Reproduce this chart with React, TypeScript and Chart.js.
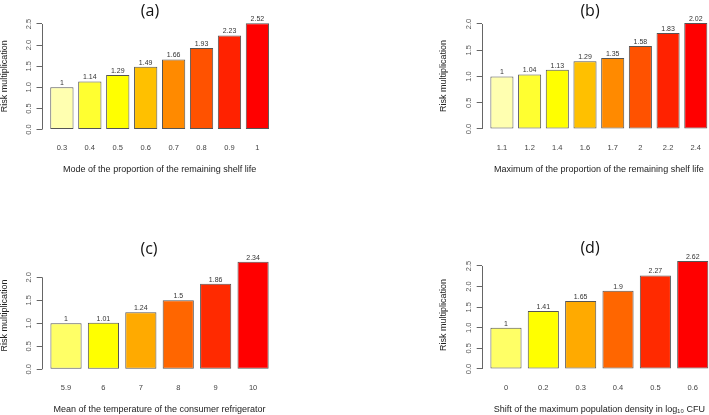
import React, { useEffect, useRef } from "react";
import { Chart, registerables } from "chart.js";
Chart.register(...registerables);

// ---- data ----
const catsA = ["0.3", "0.4", "0.5", "0.6", "0.7", "0.8", "0.9", "1"];
const valsA = [1, 1.14, 1.29, 1.49, 1.66, 1.93, 2.23, 2.52];
const catsB = ["1.1", "1.2", "1.4", "1.6", "1.7", "2", "2.2", "2.4"];
const valsB = [1, 1.04, 1.13, 1.29, 1.35, 1.58, 1.83, 2.02];
const catsC = ["5.9", "6", "7", "8", "9", "10"];
const valsC = [1, 1.01, 1.24, 1.5, 1.86, 2.34];
const catsD = ["0", "0.2", "0.3", "0.4", "0.5", "0.6"];
const valsD = [1, 1.41, 1.65, 1.9, 2.27, 2.62];

const titleA = "(a)";
const titleB = "(b)";
const titleC = "(c)";
const titleD = "(d)";
const xTitleA = "Mode of the proportion of the remaining shelf life";
const xTitleB = "Maximum of the proportion of the remaining shelf life";
const xTitleC = "Mean of the temperature of the consumer refrigerator";
const xTitleD = "Shift of the maximum population density in log\u2081\u2080 CFU";
const yTitle = "Risk multiplication";

const colors8 = ["#FFFFB0", "#FFFF30", "#FFFF00", "#FFC000", "#FF8A00", "#FF5200", "#FF2200", "#FF0000"];
const colors6 = ["#FFFF66", "#FFFF00", "#FFAA00", "#FF6600", "#FF2A00", "#FF0000"];

const FONT = "'Liberation Sans', Arial, sans-serif";
const W = 760;
const H = 415;

type Spec = {
  cats: string[];
  vals: number[];
  colors: string[];
  title: string;
  xTitle: string;
  area: { l: number; r: number; t: number; b: number };
  titleX: number;
  titleY: number;
  yTitleX: number;
  xTitleY: number;
  xLabelY: number;
};

const specs: Spec[] = [
  { cats: catsA, vals: valsA, colors: colors8, title: titleA, xTitle: xTitleA,
    area: { l: 41.5, r: 277.8, t: 18.9, b: 133.8 }, titleX: 150, titleY: 11, yTitleX: 5, xTitleY: 170, xLabelY: 148 },
  { cats: catsB, vals: valsB, colors: colors8, title: titleB, xTitle: xTitleB,
    area: { l: 481.7, r: 716, t: 18.7, b: 133.2 }, titleX: 590, titleY: 11, yTitleX: 443.5, xTitleY: 170, xLabelY: 148 },
  { cats: catsC, vals: valsC, colors: colors6, title: titleC, xTitle: xTitleC,
    area: { l: 41.7, r: 277.4, t: 257.4, b: 373.6 }, titleX: 149, titleY: 249, yTitleX: 4.5, xTitleY: 410, xLabelY: 388 },
  { cats: catsD, vals: valsD, colors: colors6, title: titleD, xTitle: xTitleD,
    area: { l: 481.7, r: 717, t: 256.7, b: 373.3 }, titleX: 590, titleY: 248, yTitleX: 443.5, xTitleY: 409.5, xLabelY: 388 },
];

function Panel({ spec }: { spec: Spec }) {
  const ref = useRef<HTMLCanvasElement>(null);
  useEffect(() => {
    if (!ref.current) return;
    const { cats, vals, colors, area } = spec;
    const n = vals.length;
    const centers = vals.map((_, i) => 0.7 + 1.2 * i);
    const rng = 1.2 * n - 0.2;
    const xmin = 0.2 - 0.04 * rng;
    const xmax = 1.2 * n + 0.04 * rng;
    const vmax = Math.max(...vals);
    const ymin = -0.04 * vmax;
    const ymax = 1.04 * vmax;

    const tickFont = 7.5;
    const titleFont = 9;
    const padL = spec.yTitleX - titleFont / 2;
    const yW = area.l - padL;
    const xLabelPad = spec.xLabelY - area.b - (tickFont * 1.2) / 2;
    const xH = spec.xTitleY + titleFont / 2 - area.b;
    const padB = H - (area.b + xH);

    const plugins = [
      {
        id: "rAxis",
        afterDraw(chart: any) {
          const ctx = chart.ctx;
          const ys = chart.scales.y;
          const tks = ys.ticks;
          const x = Math.round(chart.chartArea.left) + 0.5;
          ctx.save();
          ctx.strokeStyle = "#666";
          ctx.lineWidth = 1;
          ctx.beginPath();
          ctx.moveTo(x, ys.getPixelForValue(tks[0].value));
          ctx.lineTo(x, ys.getPixelForValue(tks[tks.length - 1].value));
          ctx.stroke();
          // panel title
          ctx.fillStyle = "#111";
          ctx.font = "16px 'Open Sans', sans-serif";
          ctx.textAlign = "center";
          ctx.textBaseline = "middle";
          ctx.fillText(spec.title, spec.titleX, spec.titleY);
          ctx.restore();
        },
        afterDatasetsDraw(chart: any) {
          const ctx = chart.ctx;
          const meta = chart.getDatasetMeta(0);
          ctx.save();
          ctx.fillStyle = "#333";
          ctx.font = `7px ${FONT}`;
          ctx.textAlign = "center";
          ctx.textBaseline = "bottom";
          meta.data.forEach((el: any, i: number) => {
            ctx.fillText(String(vals[i]), el.x, el.y - 0.5);
          });
          ctx.restore();
        },
      },
    ];

    const chart = new Chart(ref.current, {
      type: "bar",
      data: {
        datasets: [
          {
            data: vals.map((v, i) => ({ x: centers[i], y: v })),
            backgroundColor: colors,
            borderColor: "#555",
            borderWidth: 1,
            borderSkipped: false,
            categoryPercentage: 1,
            barPercentage: 1 / 1.2,
          } as any,
        ],
      },
      options: {
        responsive: false,
        animation: false,
        events: [],
        layout: { padding: { left: padL, top: area.t, right: W - area.r, bottom: padB } },
        plugins: { legend: { display: false }, tooltip: { enabled: false }, title: { display: false } },
        scales: {
          x: {
            type: "linear",
            min: xmin,
            max: xmax,
            offset: false,
            grid: { display: false, drawTicks: false, tickLength: 0, offset: false },
            border: { display: false },
            afterBuildTicks: (scale: any) => {
              scale.ticks = centers.map((v) => ({ value: v }));
            },
            afterFit: (scale: any) => {
              scale.height = xH;
            },
            ticks: {
              autoSkip: false,
              maxRotation: 0,
              minRotation: 0,
              padding: xLabelPad,
              color: "#444",
              font: { family: FONT, size: tickFont },
              callback: (_v: any, idx: number) => cats[idx],
            },
            title: {
              display: true,
              text: spec.xTitle,
              color: "#222",
              font: { family: FONT, size: titleFont, lineHeight: 1 },
              padding: 0,
            },
          },
          y: {
            type: "linear",
            min: ymin,
            max: ymax,
            grid: { drawOnChartArea: false, drawTicks: true, tickLength: 5, color: "#666" },
            border: { display: false },
            afterFit: (scale: any) => {
              scale.width = yW;
            },
            ticks: {
              stepSize: 0.5,
              includeBounds: false,
              minRotation: 90,
              maxRotation: 90,
              crossAlign: "center",
              padding: 2.3,
              color: "#555",
              font: { family: FONT, size: tickFont },
              callback: (v: any) => Number(v).toFixed(1),
            },
            title: {
              display: true,
              text: yTitle,
              color: "#222",
              font: { family: FONT, size: titleFont, lineHeight: 1 },
              padding: 0,
            },
          },
        },
      } as any,
      plugins: plugins as any,
    });
    return () => chart.destroy();
  }, [spec]);
  return (
    <canvas
      ref={ref}
      width={W}
      height={H}
      style={{ position: "absolute", left: 0, top: 0, width: W, height: H }}
    />
  );
}

export default function App() {
  return (
    <div
      style={{
        position: "fixed",
        left: 0,
        top: 0,
        width: 709,
        height: 415,
        overflow: "hidden",
        background: "#fff",
      }}
    >
      {specs.map((s, i) => (
        <Panel key={i} spec={s} />
      ))}
    </div>
  );
}
